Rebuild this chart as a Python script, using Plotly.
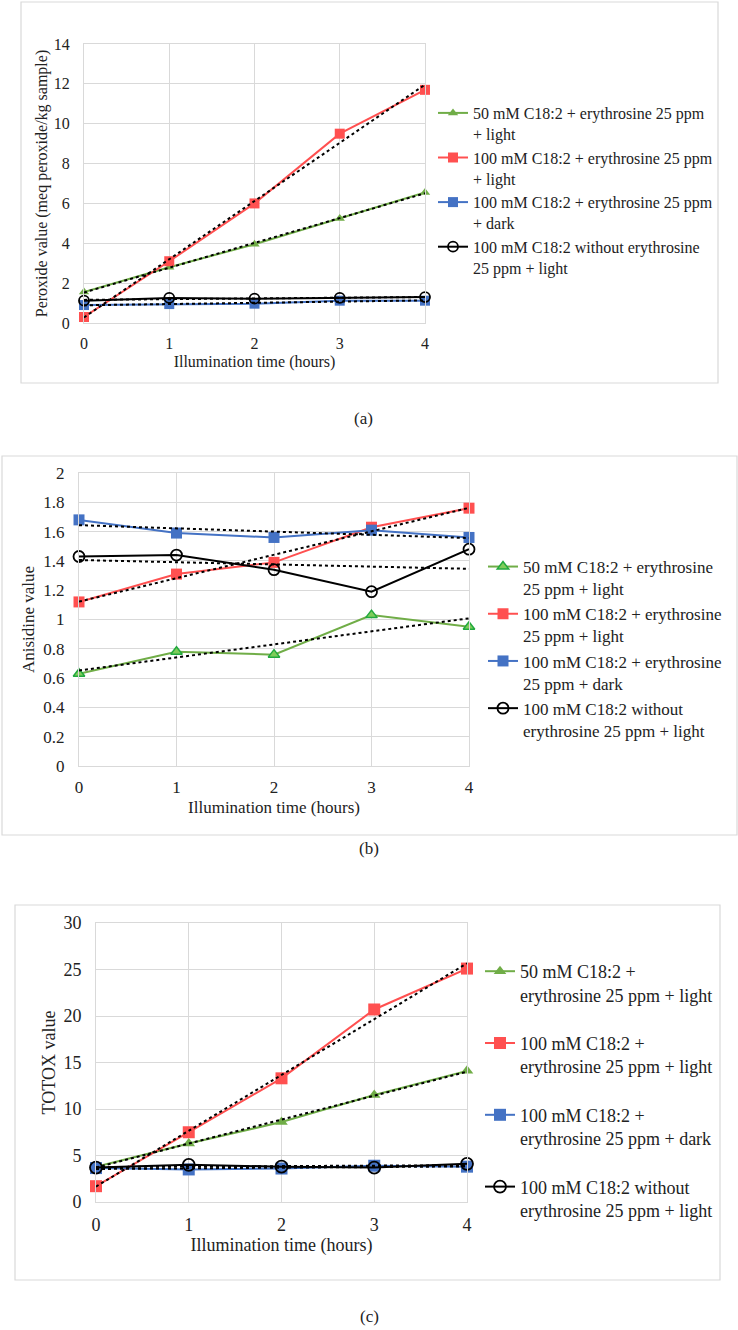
import numpy as np
import plotly.graph_objects as go

# Illumination time (hours)
hours = [0, 1, 2, 3, 4]

# (a) Peroxide value (meq peroxide/kg sample)
pv_50_light = [1.55, 2.8, 3.95, 5.25, 6.55]
pv_100_light = [0.3, 3.1, 6.0, 9.5, 11.7]
pv_100_dark = [0.9, 0.95, 0.97, 1.12, 1.12]
pv_100_no_ery = [1.12, 1.26, 1.22, 1.26, 1.3]

# (b) Anisidine value
av_50_light = [0.63, 0.78, 0.76, 1.03, 0.95]
av_100_light = [1.12, 1.31, 1.39, 1.63, 1.76]
av_100_dark = [1.68, 1.59, 1.56, 1.61, 1.56]
av_100_no_ery = [1.43, 1.44, 1.34, 1.19, 1.48]

# (c) TOTOX value
tx_50_light = [3.8, 6.3, 8.6, 11.5, 14.1]
tx_100_light = [1.7, 7.5, 13.3, 20.7, 25.1]
tx_100_dark = [3.65, 3.5, 3.6, 3.9, 3.8]
tx_100_no_ery = [3.7, 4.0, 3.8, 3.7, 4.1]

names_a = ["50 mM C18:2 + erythrosine 25 ppm<br>+ light",
           "100 mM C18:2 + erythrosine 25 ppm<br>+ light",
           "100 mM C18:2 + erythrosine 25 ppm<br>+ dark",
           "100 mM C18:2 without erythrosine<br>25 ppm + light"]
names_b = ["50 mM C18:2 + erythrosine<br>25 ppm + light",
           "100 mM C18:2 + erythrosine<br>25 ppm + light",
           "100 mM C18:2 + erythrosine<br>25 ppm + dark",
           "100 mM C18:2 without<br>erythrosine 25 ppm + light"]
names_c = ["50 mM C18:2 +<br>erythrosine 25 ppm + light",
           "100 mM C18:2 +<br>erythrosine 25 ppm + light",
           "100 mM C18:2 +<br>erythrosine 25 ppm + dark",
           "100 mM C18:2 without<br>erythrosine 25 ppm + light"]

GREEN = "#70AD47"
RED = "#FF5050"
BLUE = "#4472C4"
BLACK = "#000000"
GRID = "#D9D9D9"
FONT = "Liberation Serif, Times New Roman, DejaVu Serif, serif"

W, H = 738, 1330


def px_x(p):
    return p / W


def px_y(p):
    return 1 - p / H


fig = go.Figure()

panels = [
    dict(ax="", legend="legend", size=16, ms=10, green_marker=dict(color=GREEN),
         series=[pv_50_light, pv_100_light, pv_100_dark, pv_100_no_ery], names=names_a),
    dict(ax="2", legend="legend2", size=17, ms=11,
         green_marker=dict(color="#7FCC5A", line=dict(color="#22A93F", width=1.5)),
         series=[av_50_light, av_100_light, av_100_dark, av_100_no_ery], names=names_b),
    dict(ax="3", legend="legend3", size=18, ms=12, green_marker=dict(color=GREEN),
         series=[tx_50_light, tx_100_light, tx_100_dark, tx_100_no_ery], names=names_c),
]

for p in panels:
    colors = [GREEN, RED, BLUE, BLACK]
    symbols = ["triangle-up", "square", "square", "circle-open"]
    for i, vals in enumerate(p["series"]):
        if i == 0:
            marker = dict(symbol=symbols[i], size=p["ms"] - 1, **p["green_marker"])
        elif i == 3:
            marker = dict(symbol="circle", size=p["ms"], color="rgba(0,0,0,0)",
                          line=dict(color=BLACK, width=1.8))
        else:
            marker = dict(symbol=symbols[i], size=p["ms"], color=colors[i])
        fig.add_trace(go.Scatter(
            x=hours, y=vals, mode="lines+markers", name=p["names"][i],
            line=dict(color=colors[i], width=2), marker=marker,
            xaxis="x" + p["ax"], yaxis="y" + p["ax"], legend=p["legend"],
            legendgroup=p["legend"] + str(i), cliponaxis=False))
    # linear trendlines
    for vals in p["series"]:
        k, b = np.polyfit(hours, vals, 1)
        fig.add_trace(go.Scatter(
            x=[hours[0], hours[-1]], y=[k * hours[0] + b, k * hours[-1] + b],
            mode="lines", line=dict(color=BLACK, width=2, dash="dot"),
            showlegend=False, hoverinfo="skip",
            xaxis="x" + p["ax"], yaxis="y" + p["ax"], cliponaxis=False))

# plot areas (pixels): left, right, top, bottom
areas = [(84, 425, 44, 323), (79, 469, 473, 766), (96, 467, 923, 1202)]
yranges = [(14, 2, "Peroxide value (meq peroxide/kg sample)", 2),
           (2, 0.2, "Anisidine value", 4),
           (30, 5, "TOTOX value", 3)]

for (l, r, t, b), (ymax, dt, ytitle, ystand), p in zip(areas, yranges, panels):
    s = p["size"]
    fig.update_layout(**{
        "xaxis" + p["ax"]: dict(
            domain=[px_x(l), px_x(r)], range=[0, 4], dtick=1, anchor="y" + p["ax"],
            showgrid=True, gridcolor=GRID, zeroline=False, showline=True,
            linecolor=GRID, mirror=True, ticks="", ticklabelstandoff=6,
            automargin=False,
            tickfont=dict(family=FONT, size=s, color="#222"),
            title=dict(text="Illumination time (hours)", standoff=4,
                       font=dict(family=FONT, size=s, color="#222"))),
        "yaxis" + p["ax"]: dict(
            domain=[px_y(b), px_y(t)], range=[0, ymax], dtick=dt, anchor="x" + p["ax"],
            showgrid=True, gridcolor=GRID, zeroline=False, showline=True,
            linecolor=GRID, mirror=True, ticks="", ticklabelstandoff=10,
            automargin=False,
            tickfont=dict(family=FONT, size=s, color="#222"),
            title=dict(text=ytitle, standoff=ystand,
                       font=dict(family=FONT, size=s, color="#222"))),
    })

legends = [(433, 96, 16, 0), (483, 549, 17, 0), (480, 953, 18, 22)]
for (lx, ly, s, gap), p in zip(legends, panels):
    fig.update_layout(**{p["legend"]: dict(
        x=px_x(lx), y=px_y(ly), xanchor="left", yanchor="top",
        xref="paper", yref="paper", valign="top", tracegroupgap=gap,
        bgcolor="rgba(0,0,0,0)", font=dict(family=FONT, size=s, color="#222"))})

# panel frames
for x0, y0, x1, y1 in [(21, 2, 718, 383), (2, 456, 737, 835), (15, 905, 720, 1280)]:
    fig.add_shape(type="rect", xref="paper", yref="paper",
                  x0=px_x(x0), x1=px_x(x1), y0=px_y(y0), y1=px_y(y1),
                  line=dict(color=GRID, width=1.2))

for label, cx, cy in [("(a)", 363, 419), ("(b)", 369, 848), ("(c)", 369, 1316)]:
    fig.add_annotation(text=label, x=px_x(cx), y=px_y(cy), xref="paper", yref="paper",
                       xanchor="center", yanchor="middle", showarrow=False,
                       font=dict(family=FONT, size=17, color="#222"))

fig.update_layout(width=W, height=H, margin=dict(l=0, r=0, t=0, b=0, autoexpand=False),
                  paper_bgcolor="white", plot_bgcolor="white",
                  font=dict(family=FONT, color="#222"))

fig.write_html("out.html", config={"displayModeBar": False},
               post_script="document.body.style.margin = '0';")
